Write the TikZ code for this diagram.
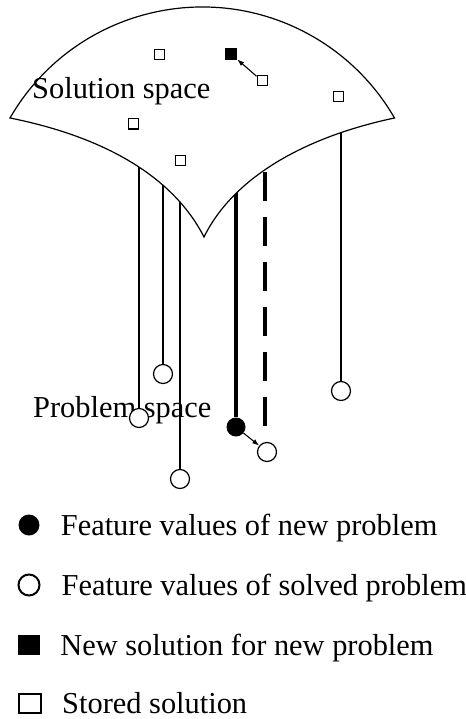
\documentclass[tikz,border=0pt]{standalone}
\usepackage{fontspec}
\setmainfont{Liberation Serif}
\usetikzlibrary{arrows.meta,positioning}

\begin{document}
\begin{tikzpicture}[x=1bp,y=-1bp,>={Latex[length=7bp,width=5bp]},
  font=\fontsize{30.4bp}{36bp}\selectfont,
  wire/.style={line width=1.1bp},
  stored/.style={draw,line width=1bp,fill=white,minimum size=10bp,inner sep=0pt},
  newsol/.style={fill=black,minimum size=12bp,inner sep=0pt},
  solved/.style={draw,circle,line width=1.2bp,fill=white,minimum size=19bp,inner sep=0pt},
  newprob/.style={fill=black,circle,minimum size=19bp,inner sep=0pt},
  legtext/.style={inner sep=0pt,text height=20bp,text depth=0pt}]
\useasboundingbox (0,0) rectangle (466,719);

% problem space
\node[inner sep=0pt,anchor=base west] (ps) at (33,417) {Problem space};
\node[solved] (c1) at (139,418) {};
\node[solved] (c2) at (163,374) {};
\node[solved] (c3) at (180,479) {};
\node[solved] (c4) at (341,391) {};
\node[solved] (c5) at (267,452) {};
\node[newprob] (p0) at (236,427) {};

% stems (tops hidden under the solution space)
\coordinate (t1) at (139,140);
\coordinate (t2) at (163,140);
\coordinate (t3) at (180,140);
\coordinate (t4) at (341,110);
\coordinate (k1) at (236,170);
\coordinate (d1) at (265,172);
\coordinate (d2) at (265,428);
\draw[wire] (t1) -- (c1.north);
\draw[wire] (t2) -- (c2.north);
\draw[wire] (t3) -- (c3.north);
\draw[wire] (t4) -- (c4.north);
\draw[line width=4bp] (k1) -- (p0.north);
\draw[line width=3.5bp,dash pattern=on 29bp off 16bp] (d1) -- (d2);
\draw[->,wire] (p0) -- (c5);

% solution space
\draw[line width=1.2bp,fill=white] (10,118) arc[start angle=210,end angle=330,radius=222]
  .. controls (300,138) and (232,180) .. (204,237)
  .. controls (175,180) and (110,138) .. (10,118) -- cycle;
\node[inner sep=0pt,anchor=base west] (ss) at (32,99) {Solution space};
\node[stored] (s1) at (159,55) {};
\node[stored] (s2) at (262,81) {};
\node[stored] (s3) at (338,97) {};
\node[stored] (s4) at (133,124) {};
\node[stored] (s5) at (180,160) {};
\node[newsol] (ns) at (231,54) {};
\draw[->,wire] (s2) -- (ns);

% legend
\node[newprob,minimum size=21bp] (l1) at (29,525) {};
\node[solved,minimum size=21bp,line width=2bp] (l2) at (29,585) {};
\node[newsol,minimum width=22bp,minimum height=20bp] (l3) at (29,645) {};
\node[stored,minimum width=22bp,minimum height=19bp,line width=2bp] (l4) at (30,703) {};
\node[legtext,right=21bp of l1] (lt1) {Feature values of new problem};
\node[legtext,right=21bp of l2] (lt2) {Feature values of solved problem};
\node[legtext,right=20bp of l3] (lt3) {New solution for new problem};
\node[legtext,right=20bp of l4] (lt4) {Stored solution};
\end{tikzpicture}
\end{document}
